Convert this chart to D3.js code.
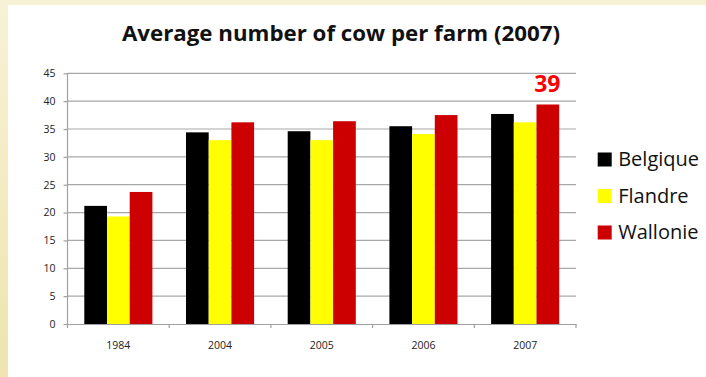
<!DOCTYPE html>
<html>
<head>
<meta charset="utf-8">
<script src="https://cdn.jsdelivr.net/npm/d3@7"></script>
<style>
  html, body { margin: 0; padding: 0; background: #fff; }
  svg { display: block; }
  text { font-family: "Open Sans", "Liberation Sans", sans-serif; }
</style>
</head>
<body>
<svg id="chart" width="706" height="377"></svg>
<script>
const categories = ["1984", "2004", "2005", "2006", "2007"];
const seriesNames = ["Belgique", "Flandre", "Wallonie"];
const belgique = [21.2, 34.4, 34.6, 35.5, 37.7];
const flandre  = [19.3, 33.0, 33.0, 34.1, 36.2];
const wallonie = [23.7, 36.2, 36.4, 37.5, 39.4];
const colors = ["#000000", "#ffff00", "#cc0000"];
const yTicks = [0, 5, 10, 15, 20, 25, 30, 35, 40, 45];
const titleText = "Average number of cow per farm (2007)";
const highlightLabel = "39";

const seriesValues = [belgique, flandre, wallonie];
const svg = d3.select("#chart");
const W = 706, H = 377;

// background
const defs = svg.append("defs");
const lg = defs.append("linearGradient").attr("id", "bg").attr("x1", 0).attr("y1", 0).attr("x2", 0).attr("y2", 1);
lg.append("stop").attr("offset", "0%").attr("stop-color", "#f7f2d6");
lg.append("stop").attr("offset", "100%").attr("stop-color", "#efe4ae");
svg.append("rect").attr("width", W).attr("height", H).attr("fill", "url(#bg)");
svg.append("rect").attr("x", 8).attr("y", 5).attr("width", W - 8).attr("height", H - 5).attr("fill", "#ffffff");

const plot = { left: 67.5, right: 576, top: 73.3, bottom: 324 };

const x = d3.scaleBand().domain(categories).range([plot.left, plot.right]).padding(0);
const xs = d3.scaleBand().domain(seriesNames).range([0, x.bandwidth()]).paddingInner(0).paddingOuter(0.74);
const y = d3.scaleLinear().domain([0, 45]).range([plot.bottom, plot.top]);

// gridlines
svg.append("g").selectAll("line").data(yTicks.filter(d => d > 0)).join("line")
  .attr("x1", plot.left).attr("x2", plot.right)
  .attr("y1", d => y(d)).attr("y2", d => y(d))
  .attr("stroke", "#a8a8a8").attr("stroke-width", 1.2);

// bars
const groups = svg.append("g").selectAll("g").data(categories).join("g")
  .attr("transform", c => `translate(${x(c)},0)`);
groups.selectAll("rect").data((c, i) => seriesNames.map((s, j) => ({ s, j, v: seriesValues[j][i] })))
  .join("rect")
  .attr("x", d => xs(d.s)).attr("width", xs.bandwidth())
  .attr("y", d => y(d.v)).attr("height", d => y(0) - y(d.v))
  .attr("fill", d => colors[d.j]);

// y axis
const yAxis = svg.append("g").attr("transform", `translate(${plot.left},0)`)
  .call(d3.axisLeft(y).tickValues(yTicks).tickSize(4).tickPadding(8));
yAxis.select(".domain").attr("stroke", "#a0a0a0").attr("stroke-width", 1.2).attr("d", `M0,${plot.top}V${plot.bottom}`);
yAxis.selectAll(".tick line").attr("stroke", "#a0a0a0").attr("stroke-width", 1.2);
yAxis.selectAll(".tick text").attr("font-size", "10.5px").attr("fill", "#222");

// x axis
const xAxis = svg.append("g").attr("transform", `translate(0,${plot.bottom})`)
  .call(d3.axisBottom(x).tickSize(0).tickPadding(18));
xAxis.select(".domain").attr("stroke", "#a0a0a0").attr("stroke-width", 1.2);
xAxis.selectAll(".tick text").attr("font-size", "10.5px").attr("fill", "#222");
// category boundary ticks
const bounds = categories.map(c => x(c)).concat([plot.right]);
svg.append("g").selectAll("line").data(bounds).join("line")
  .attr("x1", d => d).attr("x2", d => d)
  .attr("y1", plot.bottom).attr("y2", plot.bottom + 4)
  .attr("stroke", "#a0a0a0").attr("stroke-width", 1.2);

// highlight label
const lastCat = categories[categories.length - 1];
svg.append("text")
  .attr("x", x(lastCat) + xs("Wallonie") + xs.bandwidth() / 2 - 0.5)
  .attr("y", 91.7)
  .attr("text-anchor", "middle")
  .attr("font-size", "23px").attr("font-weight", "bold").attr("fill", "#ff0000")
  .text(highlightLabel);

// title
svg.append("text")
  .attr("x", 341).attr("y", 40.7)
  .attr("text-anchor", "middle")
  .attr("font-size", "22px").attr("font-weight", "bold").attr("fill", "#111")
  .attr("textLength", 438).attr("lengthAdjust", "spacingAndGlyphs")
  .text(titleText);

// legend
const legendBase = [166, 202.5, 239];
const leg = svg.append("g").selectAll("g").data(seriesNames).join("g")
  .attr("transform", (d, i) => `translate(597.7,${legendBase[i]})`);
leg.append("rect").attr("x", 0).attr("y", -13.5).attr("width", 14).attr("height", 14)
  .attr("fill", (d, i) => colors[i]);
leg.append("text").attr("x", 20.5).attr("y", 0)
  .attr("font-size", "20px").attr("fill", "#111")
  .text(d => d);
</script>
</body>
</html>
